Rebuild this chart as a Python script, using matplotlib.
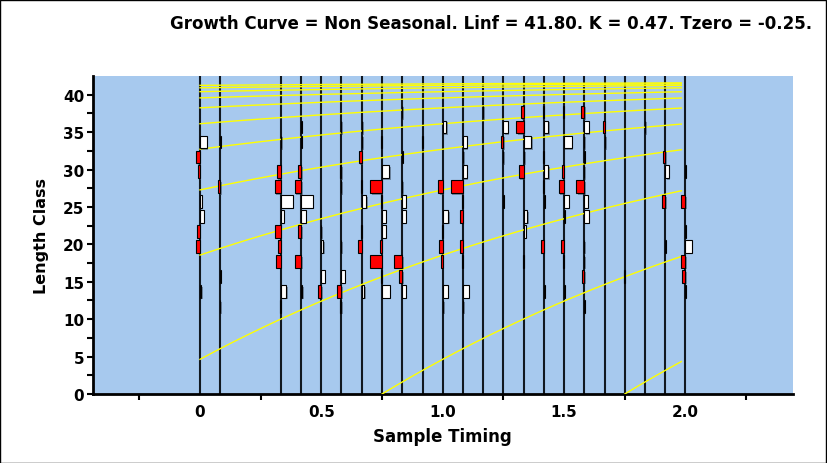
import numpy as np
import matplotlib
matplotlib.use("Agg")
import matplotlib.pyplot as plt
import matplotlib.patheffects as pe
from matplotlib.patches import Rectangle

# growth curve parameters (from the title)
linf = 41.80
k_growth = 0.47
tzero = -0.25

# sample timings (years) and length class mid points
sample_times = [0.0, 0.083, 0.333, 0.417, 0.5, 0.583, 0.667, 0.75, 0.833, 0.917,
                1.0, 1.083, 1.167, 1.25, 1.333, 1.417, 1.5, 1.583, 1.667, 1.75,
                1.833, 1.917, 2.0]
length_classes = [11.7, 13.7, 15.7, 17.7, 19.7, 21.7, 23.7, 25.7, 27.7, 29.7,
                  31.7, 33.7, 35.7, 37.7]

# restructured scores, one row per sample, one column per length class
# positive -> red bar (left of sample line), negative -> white bar (right)
scores = [
    [0, -0.1, 0, 0, 0.35, 0.25, -0.3, -0.15, 0, 0.15, 0.3, -0.55, 0, 0],
    [0.05, 0, -0.05, 0, 0, 0, 0, 0, 0.15, 0, 0, -0.05, 0, 0],
    [0.05, -0.45, 0, 0.4, 0.2, 0.5, -0.25, -1.0, 0.5, 0.35, 0, -0.05, 0, 0],
    [0, -0.1, 0, 0.55, 0, 0.25, -0.4, -0.95, 0.55, 0.25, 0, -0.05, -0.05, 0],
    [0, 0.3, -0.3, 0, -0.15, 0.05, 0, 0, 0, 0, 0, 0, 0, 0],
    [0.1, 0.4, -0.25, 0, 0.05, 0, 0, 0, 0.05, 0.15, 0, 0, 0.05, 0],
    [0, -0.2, 0, 0, 0.3, 0.05, 0, -0.35, 0.05, 0, 0.25, -0.05, -0.05, 0],
    [0, -0.65, 0.1, 0.95, 0.15, -0.3, -0.3, 0.05, 0.95, -0.6, 0, 0.05, 0, 0],
    [0, -0.3, 0.3, 0.7, 0, 0, -0.3, -0.3, 0.05, 0, -0.05, 0, 0, 0.05],
    [0, 0, 0, 0, 0, 0, 0, 0, 0, 0, 0, 0.05, 0, 0],
    [-0.05, -0.4, 0, 0.15, 0.3, 0.05, -0.45, 0, 0.35, 0, 0, 0, -0.3, 0],
    [-0.05, -0.5, 0, 0.05, 0.25, 0, 0.2, 0.05, 1.0, -0.35, -0.05, -0.35, 0, 0],
    [0, 0, 0, 0, 0, 0, 0, 0, 0, 0, 0, 0, 0, 0.05],
    [0, 0, 0, 0, 0, 0, 0, -0.05, 0, 0, 0.05, 0.2, -0.35, 0],
    [0, 0, 0, 0.05, 0, -0.2, -0.3, 0, 0, 0.4, -0.05, -0.65, 0.6, 0.2],
    [0, -0.05, 0, 0, 0.2, 0, 0, -0.05, 0.05, -0.35, 0.05, 0, -0.35, 0.1],
    [0, -0.05, 0, 0.05, 0.25, 0, -0.05, -0.4, 0.45, 0.2, 0, -0.65, 0, 0.05],
    [-0.05, 0, 0.15, 0.05, 0.05, 0, -0.4, -0.3, 0.65, 0.05, -0.05, 0.05, -0.4, 0.25],
    [0, 0, 0, 0, 0, 0, 0, 0, 0, 0, 0, -0.05, 0.1, 0],
    [0, 0, 0.05, 0, 0, 0, 0, 0, 0, 0, 0, 0, 0, 0],
    [0, 0, 0, 0, 0, 0, 0, 0, 0, 0, 0, 0, -0.05, 0],
    [0, 0, 0, 0, -0.05, 0, 0, 0.3, 0, -0.3, 0.2, 0, 0, 0],
    [0, -0.05, 0.3, 0.4, -0.55, -0.05, 0, 0.35, 0, -0.05, 0, 0, 0, 0],
]

x_ticks = [0, 0.5, 1.0, 1.5, 2.0]
x_tick_labels = ["0", "0.5", "1.0", "1.5", "2.0"]

BG = "#A7C9EE"
BAR_H = 1.7
BAR_W = 0.05   # time units for a score of 1
Y_TOP = 42.55
T_END = 1.983


def main():
    fig = plt.figure(figsize=(8.27, 4.64), dpi=100)
    fig.patch.set_facecolor("white")
    fig.patches.append(Rectangle((0.0006, 0.001), 0.9985, 0.997, transform=fig.transFigure,
                                 fill=False, edgecolor="black", lw=1.0))
    ax = fig.add_axes([0.1121, 0.1487, 0.8464, 0.686])
    ax.set_facecolor(BG)

    # sample lines
    ax.vlines(sample_times, 0, Y_TOP, color="#111820", lw=1.5, zorder=2)

    # growth curves, one per yearly cohort
    births = [tzero - n for n in range(10)] + [tzero + 1.0, tzero + 2.0]
    for tb in births:
        t = np.linspace(max(0.0, tb), T_END, 200)
        L = linf * (1 - np.exp(-k_growth * (t - tb)))
        ax.plot(t, L, color="#FFFF00", lw=1.0, zorder=3)

    shadow = [pe.SimplePatchShadow(offset=(1.0, -1.0), shadow_rgbFace="#3c4a5c", alpha=0.5),
              pe.Normal()]
    sc = np.array(scores)
    for i, ts in enumerate(sample_times):
        for j, lc in enumerate(length_classes):
            v = sc[i, j]
            if v == 0:
                continue
            w = abs(v) * BAR_W
            if v > 0:
                bars = ax.barh(lc, w, height=BAR_H, left=ts - w, color="#FF0000",
                               edgecolor="black", lw=0.8, zorder=4)
            else:
                bars = ax.barh(lc, w, height=BAR_H, left=ts, color="white",
                               edgecolor="black", lw=0.8, zorder=4)
            for b in bars:
                b.set_path_effects(shadow)

    ax.set_xlim(-0.442, 2.442)
    ax.set_ylim(0, Y_TOP)

    for s in ["top", "right"]:
        ax.spines[s].set_visible(False)
    for s in ["left", "bottom"]:
        ax.spines[s].set_linewidth(2.0)
        ax.spines[s].set_color("black")

    ax.set_xticks(x_ticks)
    ax.set_xticklabels(x_tick_labels)
    ax.set_xticks([-0.25, 0.25, 0.75, 1.25, 1.75, 2.25], minor=True)
    ax.set_yticks(np.arange(0, 41, 5))
    ax.set_yticks(np.arange(2.5, 41, 5), minor=True)
    ax.tick_params(axis="x", which="major", direction="in", length=0, pad=7)
    ax.tick_params(axis="x", which="minor", direction="out", length=4, width=1.5)
    ax.tick_params(axis="y", which="both", direction="out", length=4, width=1.5, pad=2)
    for lab in ax.get_xticklabels() + ax.get_yticklabels():
        lab.set_fontweight("bold")
        lab.set_fontsize(11)

    ax.set_xlabel("Sample Timing", fontsize=12, fontweight="bold", labelpad=6)
    ax.set_ylabel("Length Class", fontsize=11.5, fontweight="bold", labelpad=10)

    fig.text(0.982, 0.948,
             "Growth Curve = Non Seasonal. Linf = 41.80. K = 0.47. Tzero = -0.25.",
             ha="right", va="center", fontsize=12, fontweight="bold")

    fig.savefig("out.png", dpi=100)
    plt.close(fig)


if __name__ == "__main__":
    main()
